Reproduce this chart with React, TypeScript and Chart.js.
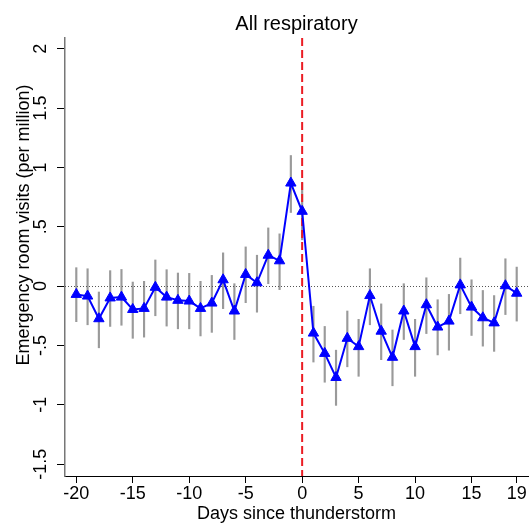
import React, { useEffect, useRef } from "react";
import { Chart, registerables } from "chart.js";

Chart.register(...registerables);

const days = [-20, -19, -18, -17, -16, -15, -14, -13, -12, -11, -10, -9, -8, -7, -6, -5, -4, -3, -2, -1, 0, 1, 2, 3, 4, 5, 6, 7, 8, 9, 10, 11, 12, 13, 14, 15, 16, 17, 18, 19];
const estimates = [-0.07, -0.084, -0.275, -0.1, -0.093, -0.197, -0.188, -0.01, -0.093, -0.12, -0.126, -0.188, -0.143, 0.053, -0.21, 0.098, 0.028, 0.26, 0.213, 0.868, 0.63, -0.396, -0.567, -0.77, -0.44, -0.51, -0.08, -0.38, -0.6, -0.21, -0.51, -0.157, -0.345, -0.295, 0.01, -0.177, -0.267, -0.31, 0.003, -0.06];
const lower = [-0.3, -0.326, -0.52, -0.34, -0.33, -0.44, -0.43, -0.25, -0.337, -0.36, -0.36, -0.42, -0.39, -0.19, -0.45, -0.14, -0.22, 0.02, -0.03, 0.62, 0.39, -0.64, -0.81, -1.005, -0.68, -0.76, -0.326, -0.62, -0.84, -0.45, -0.76, -0.4, -0.58, -0.54, -0.233, -0.416, -0.506, -0.55, -0.24, -0.295];
const upper = [0.155, 0.146, -0.05, 0.13, 0.14, 0.034, 0.04, 0.22, 0.138, 0.11, 0.107, 0.04, 0.09, 0.28, 0.02, 0.33, 0.26, 0.49, 0.44, 1.1, 0.87, -0.17, -0.34, -0.54, -0.21, -0.28, 0.146, -0.15, -0.37, 0.02, -0.28, 0.07, -0.115, -0.07, 0.236, 0.053, -0.037, -0.08, 0.23, 0.16];
const xTicks = [-20, -15, -10, -5, 0, 5, 10, 15, 19];
const yTicks = [-1.5, -1, -0.5, 0, 0.5, 1, 1.5, 2];
const yTickLabels = ["-1.5", "-1", "-.5", "0", ".5", "1", "1.5", "2"];
const titleText = "All respiratory";
const xTitle = "Days since thunderstorm";
const yTitle = "Emergency room visits (per million)";
const eventDay = 0;

const FONT = "'Liberation Sans', Arial, Helvetica, sans-serif";

const textPlugin = {
  id: "stataText",
  afterDatasetDraw(chart: any, args: any) {
    if (args.meta.type !== "bar") return;
    const { ctx, chartArea, scales } = chart;
    const x0 = scales.x.getPixelForValue(eventDay);
    const y0 = scales.y.getPixelForValue(0);
    ctx.save();
    ctx.strokeStyle = "#555";
    ctx.lineWidth = 1;
    ctx.setLineDash([1, 2]);
    ctx.beginPath();
    ctx.moveTo(chartArea.left, Math.round(y0) + 0.5);
    ctx.lineTo(chartArea.right, Math.round(y0) + 0.5);
    ctx.stroke();
    ctx.strokeStyle = "rgb(235,28,36)";
    ctx.lineWidth = 2;
    ctx.setLineDash([8, 4]);
    ctx.beginPath();
    ctx.moveTo(x0, chartArea.top);
    ctx.lineTo(x0, chartArea.bottom);
    ctx.stroke();
    ctx.restore();
  },
  afterDraw(chart: any) {
    const { ctx, chartArea, scales } = chart;
    ctx.save();
    ctx.fillStyle = "#000";
    ctx.font = `20px ${FONT}`;
    ctx.textAlign = "center";
    ctx.textBaseline = "alphabetic";
    ctx.fillText(titleText, (chartArea.left + chartArea.right) / 2, 30);
    ctx.font = `18px ${FONT}`;
    ctx.fillText(xTitle, (chartArea.left + chartArea.right) / 2, 519);
    yTicks.forEach((v, i) => {
      const py = scales.y.getPixelForValue(v);
      ctx.save();
      ctx.translate(46, py);
      ctx.rotate(-Math.PI / 2);
      ctx.textAlign = "center";
      ctx.textBaseline = "alphabetic";
      ctx.font = `18px ${FONT}`;
      ctx.fillText(yTickLabels[i], 0, 0);
      ctx.restore();
    });
    ctx.save();
    ctx.translate(29, 225);
    ctx.rotate(-Math.PI / 2);
    ctx.textAlign = "center";
    ctx.textBaseline = "alphabetic";
    ctx.font = `18px ${FONT}`;
    ctx.fillText(yTitle, 0, 0);
    ctx.restore();
    ctx.restore();
  },
};

export default function App() {
  const ref = useRef<HTMLCanvasElement | null>(null);
  useEffect(() => {
    if (!ref.current) return;
    const chart = new Chart(ref.current, {
      type: "line",
      data: {
        datasets: [
          {
            type: "line",
            label: "Estimate",
            data: days.map((d, i) => ({ x: d, y: estimates[i] })),
            borderColor: "#0000ff",
            backgroundColor: "#0000ff",
            borderWidth: 2,
            pointStyle: "triangle",
            pointRadius: 6,
            pointBorderWidth: 1,
            pointBackgroundColor: "#0000ff",
            pointBorderColor: "#0000ff",
            tension: 0,
            order: 0,
          } as any,
          {
            type: "bar",
            label: "CI",
            data: days.map((d, i) => ({ x: d, y: [lower[i], upper[i]] })),
            backgroundColor: "#9a9a9a",
            borderWidth: 0,
            barThickness: 1.5,
            grouped: false,
            order: 1,
          } as any,
        ],
      },
      options: {
        animation: false,
        responsive: true,
        maintainAspectRatio: false,
        devicePixelRatio: 1,
        layout: { autoPadding: false, padding: { top: 38, right: 3, left: 0, bottom: 0 } },
        plugins: {
          legend: { display: false },
          title: { display: false },
          tooltip: { enabled: false },
        },
        scales: {
          x: {
            type: "linear",
            min: -21,
            max: 20,
            offset: false,
            afterBuildTicks: (s: any) => {
              s.ticks = xTicks.map((v) => ({ value: v }));
            },
            afterFit: (s: any) => {
              s.height = 49;
              s.paddingLeft = 0;
              s.paddingRight = 0;
            },
            ticks: {
              autoSkip: false,
              maxRotation: 0,
              minRotation: 0,
              padding: 0,
              color: "#000",
              font: { family: FONT, size: 18 },
              callback: (v: any) => String(v),
            },
            grid: {
              display: true,
              drawOnChartArea: false,
              drawTicks: true,
              tickLength: 7,
              tickColor: "#000",
              offset: false,
            },
            border: { display: true, color: "#000", width: 1 },
          },
          y: {
            type: "linear",
            min: -1.6,
            max: 2.09,
            afterBuildTicks: (s: any) => {
              s.ticks = yTicks.map((v) => ({ value: v }));
            },
            afterFit: (s: any) => {
              s.width = 65;
            },
            ticks: { display: false },
            grid: {
              display: true,
              drawOnChartArea: false,
              drawTicks: true,
              tickLength: 8,
              tickColor: "#000",
            },
            border: { display: true, color: "#777", width: 1.5 },
          },
        },
      },
      plugins: [textPlugin],
    });
    return () => chart.destroy();
  }, []);
  return (
    <div style={{ position: "absolute", left: 0, top: 0, width: 531, height: 525, background: "#fff" }}>
      <canvas ref={ref} />
    </div>
  );
}
